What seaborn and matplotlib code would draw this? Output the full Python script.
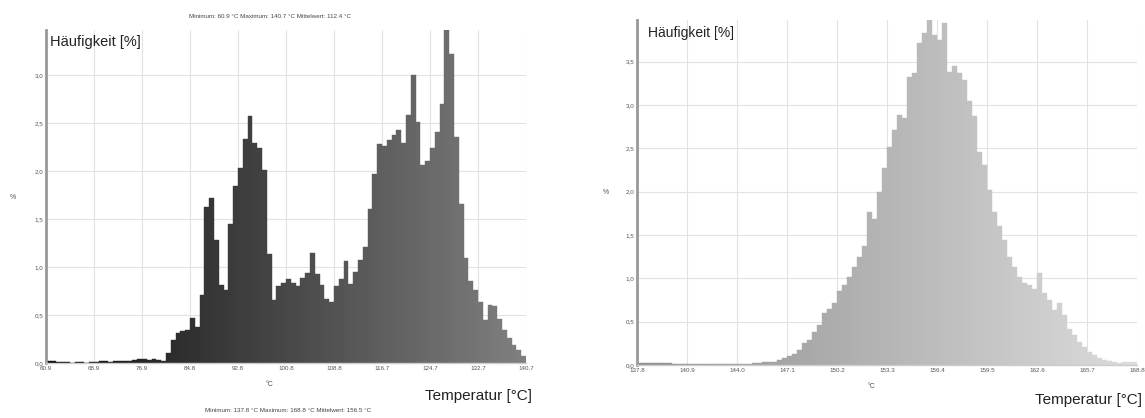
import numpy as np
import pandas as pd
import matplotlib
matplotlib.use("Agg")
import matplotlib.pyplot as plt
import seaborn as sns

# --- data ---
left_pct = [
    0.02, 0.02, 0.01, 0.01, 0.01, 0.00, 0.01, 0.01, 0.00, 0.01,
    0.01, 0.02, 0.02, 0.01, 0.02, 0.02, 0.02, 0.02, 0.03, 0.04,
    0.04, 0.03, 0.04, 0.03, 0.02, 0.10, 0.24, 0.31, 0.33, 0.34,
    0.47, 0.38, 0.71, 1.63, 1.72, 1.28, 0.81, 0.76, 1.45, 1.84,
    2.03, 2.33, 2.57, 2.29, 2.24, 2.01, 1.14, 0.66, 0.80, 0.83,
    0.875, 0.83, 0.80, 0.89, 0.94, 1.15, 0.93, 0.81, 0.67, 0.64,
    0.80, 0.88, 1.06, 0.82, 0.95, 1.07, 1.21, 1.60, 1.97, 2.28,
    2.26, 2.32, 2.38, 2.43, 2.29, 2.58, 3.00, 2.51, 2.06, 2.10,
    2.24, 2.41, 2.70, 3.47, 3.22, 2.35, 1.66, 1.09, 0.85, 0.76,
    0.64, 0.45, 0.60, 0.59, 0.46, 0.34, 0.26, 0.19, 0.14, 0.07,
]
right_pct = [
    0.02, 0.02, 0.02, 0.02, 0.02, 0.02, 0.02, 0.01, 0.01, 0.01,
    0.01, 0.01, 0.01, 0.01, 0.01, 0.01, 0.01, 0.01, 0.01, 0.01,
    0.01, 0.01, 0.01, 0.02, 0.02, 0.03, 0.04, 0.03, 0.06, 0.08,
    0.10, 0.13, 0.17, 0.25, 0.29, 0.38, 0.46, 0.60, 0.65, 0.72,
    0.85, 0.92, 1.02, 1.13, 1.25, 1.37, 1.77, 1.69, 2.00, 2.27,
    2.52, 2.71, 2.88, 2.85, 3.32, 3.37, 3.71, 3.83, 3.98, 3.81,
    3.75, 3.95, 3.38, 3.45, 3.37, 3.29, 3.04, 2.87, 2.46, 2.31,
    2.02, 1.77, 1.60, 1.44, 1.25, 1.13, 1.02, 0.95, 0.92, 0.88,
    1.06, 0.83, 0.75, 0.63, 0.71, 0.58, 0.42, 0.35, 0.27, 0.21,
    0.15, 0.12, 0.08, 0.06, 0.05, 0.03, 0.02, 0.03, 0.03, 0.03,
]
left_range = (60.9, 140.7)
right_range = (137.8, 168.8)
left_xticks = ["60.9", "68.9", "76.9", "84.8", "92.8", "100.8", "108.8",
               "116.7", "124.7", "132.7", "140.7"]
right_xticks = ["137.8", "140.9", "144.0", "147.1", "150.2", "153.3", "156.4",
                "159.5", "162.6", "165.7", "168.8"]
left_yticks = [0.0, 0.5, 1.0, 1.5, 2.0, 2.5, 3.0]
right_yticks = [0.0, 0.5, 1.0, 1.5, 2.0, 2.5, 3.0, 3.5]
left_caption = "Minimum: 60.9 °C Maximum: 140.7 °C Mittelwert: 112.4 °C"
right_caption = "Minimum: 137.8 °C Maximum: 168.8 °C Mittelwert: 156.5 °C"

sns.set_theme(style="whitegrid")
plt.rcParams['font.family'] = ['Liberation Sans', 'DejaVu Sans']

W, H = 1145, 418
fig = plt.figure(figsize=(W / 100, H / 100), dpi=100)


def px_axes(x0, top, x1, base):
    return fig.add_axes([x0 / W, (H - base) / H, (x1 - x0) / W, (base - top) / H])


def draw(ax, values, xr, xlabels, yticks, ytop, g0, g1):
    n = len(values)
    bw = (xr[1] - xr[0]) / n
    df = pd.DataFrame({
        "temp": xr[0] + bw * (np.arange(n) + 0.5),
        "pct": values,
    })
    sns.histplot(data=df, x="temp", weights="pct", binwidth=bw, binrange=xr,
                 ax=ax, element="bars", fill=True, alpha=1, linewidth=0,
                 color="gray")
    k = len(ax.patches)
    for i, p in enumerate(ax.patches):
        g = g0 + (g1 - g0) * i / max(k - 1, 1)
        p.set_facecolor((g, g, g))
        p.set_edgecolor((g, g, g))
        p.set_linewidth(0.3)
    ax.set_xlim(*xr)
    ax.set_ylim(0, ytop)
    ax.set_xticks(np.linspace(xr[0], xr[1], len(xlabels)))
    ax.set_xticklabels(xlabels)
    ax.set_yticks(yticks)
    ax.set_yticklabels([f"{v:.1f}".replace(".", ",") for v in yticks])
    ax.set_xlabel("")
    ax.set_ylabel("")
    ax.grid(True, color="#e2e2e2", lw=0.8)
    ax.set_axisbelow(True)
    ax.tick_params(length=0, labelsize=4.5, labelcolor="#555555", pad=2)
    for s in ["top", "right"]:
        ax.spines[s].set_visible(False)
    ax.spines["left"].set_color("#999999")
    ax.spines["left"].set_linewidth(2)
    ax.spines["bottom"].set_color("#cccccc")
    ax.spines["bottom"].set_linewidth(1)


ax1 = px_axes(46, 30, 526, 363)
draw(ax1, left_pct, left_range, left_xticks, left_yticks, 3.47, 0.06, 0.50)

ax2 = px_axes(637, 20, 1137, 365)
draw(ax2, right_pct, right_range, right_xticks, right_yticks, 3.98, 0.56, 0.86)


def ftext(x, y, s, **kw):
    fig.text(x / W, 1 - y / H, s, **kw)


ftext(270, 16, left_caption, fontsize=4.5, color="#444444", ha="center", va="center")
ftext(288, 410, right_caption, fontsize=4.5, color="#444444", ha="center", va="center")

ftext(50, 42, "Häufigkeit [%]", fontsize=10.5, color="#222222", ha="left", va="center")
ftext(648, 33, "Häufigkeit [%]", fontsize=10, color="#222222", ha="left", va="center")

ftext(532, 396, "Temperatur [°C]", fontsize=11, color="#222222", ha="right", va="center")
ftext(1142, 400, "Temperatur [°C]", fontsize=11, color="#222222", ha="right", va="center")

ftext(270, 384, "°C", fontsize=5, color="#555555", ha="center", va="center")
ftext(872, 386, "°C", fontsize=5, color="#555555", ha="center", va="center")
ftext(13, 197, "%", fontsize=5, color="#555555", ha="center", va="center")
ftext(606, 193, "%", fontsize=5, color="#555555", ha="center", va="center")

fig.savefig("out.png", dpi=100, facecolor="white")
